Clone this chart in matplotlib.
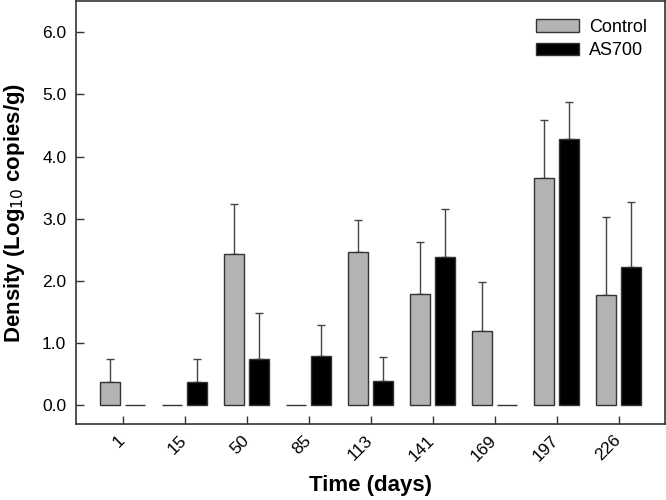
import numpy as np
import matplotlib
matplotlib.use("Agg")
import matplotlib.pyplot as plt

plt.rcParams['font.family'] = ['Liberation Sans', 'DejaVu Sans']

# datos
days = ['1', '15', '50', '85', '113', '141', '169', '197', '226']
control = [0.38, 0.0, 2.43, 0.0, 2.47, 1.79, 1.19, 3.65, 1.77]
control_err = [0.37, 0.0, 0.81, 0.0, 0.51, 0.84, 0.80, 0.93, 1.25]
as700 = [0.0, 0.38, 0.74, 0.79, 0.39, 2.38, 0.0, 4.28, 2.22]
as700_err = [0.0, 0.36, 0.74, 0.50, 0.38, 0.77, 0.0, 0.59, 1.05]

x = np.arange(len(days))
w = 0.33
off = 0.2

fig = plt.figure(figsize=(6.66, 5.0), dpi=100)
ax = fig.add_axes([76 / 666, 76 / 500, 589 / 666, 423 / 500])

# barras con error solo hacia arriba
ax.bar(x - off, control, w, color='#b3b3b3', edgecolor='#333333', linewidth=1.0,
       label='Control', zorder=2)
ax.bar(x + off, as700, w, color='#000000', edgecolor='#333333', linewidth=1.0,
       label='AS700', zorder=2)
for xs, vals, errs in [(x - off, control, control_err), (x + off, as700, as700_err)]:
    xs_e = [a for a, e in zip(xs, errs) if e > 0]
    v_e = [v for v, e in zip(vals, errs) if e > 0]
    e_e = [e for e in errs if e > 0]
    ax.errorbar(xs_e, v_e, yerr=[np.zeros(len(e_e)), e_e], fmt='none',
                ecolor='#444444', elinewidth=1.0, capsize=3, capthick=1.0, zorder=1)

ax.set_xlim(-0.75, 8.75)
ax.set_ylim(-0.3, 6.5)
ax.set_yticks(np.arange(0, 7, 1.0))
ax.set_yticklabels(['%.1f' % v for v in np.arange(0, 7, 1.0)], fontsize=12.5)
ax.set_xticks(x)
ax.set_xticklabels(days, rotation=45, fontsize=12.5, ha='right', va='center',
                   rotation_mode='anchor')
ax.tick_params(direction='in', length=6, width=1.0, color='#333333')
ax.tick_params(axis='x', pad=10)
ax.tick_params(axis='y', pad=7)
for s in ax.spines.values():
    s.set_color('#333333')
    s.set_linewidth(1.2)

ax.set_xlabel('Time (days)', fontsize=16, fontweight='bold', labelpad=8)
ax.set_ylabel('Density (Log$_{10}$ copies/g)', fontsize=16, fontweight='bold', labelpad=11)

ax.legend(loc='upper right', frameon=False, fontsize=13, handlelength=2.4,
          handleheight=0.7, handletextpad=0.55, borderaxespad=0.6, labelspacing=0.35)

fig.savefig('out.png', dpi=100)
